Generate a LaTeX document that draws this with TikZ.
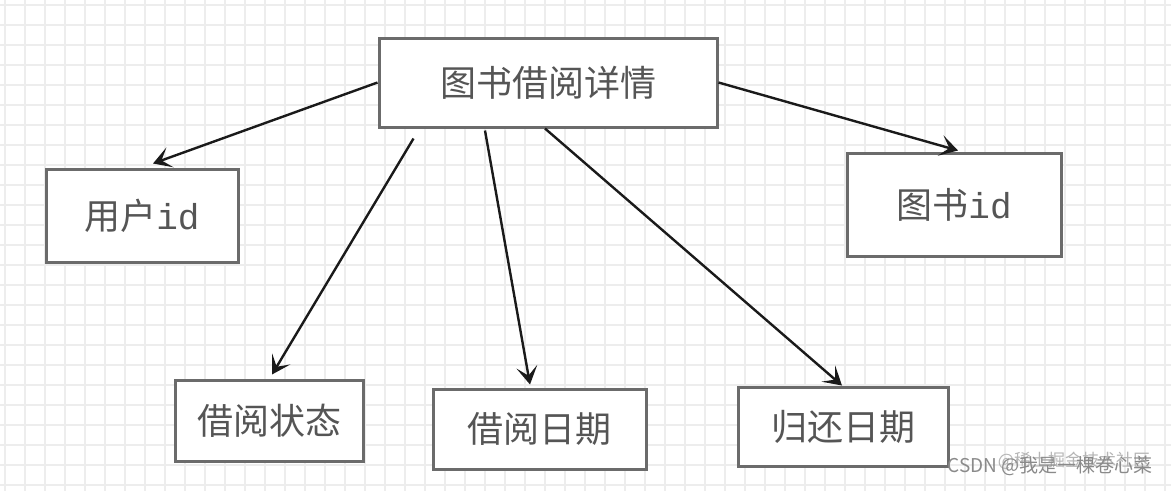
\documentclass[tikz,border=0pt]{standalone}
\usepackage{xcolor}
\usepackage{fontspec}
\setmainfont{Noto Sans CJK SC}
\setmonofont{Liberation Mono}
\usepackage{tikz}
\usetikzlibrary{calc}
\usetikzlibrary{arrows.meta}
\usetikzlibrary{shapes}
\usetikzlibrary{positioning}

\definecolor{gridgray}{HTML}{EDEDED}
\definecolor{boxgray}{HTML}{6B6B6B}
\definecolor{textgray}{HTML}{555555}
\definecolor{arrowblack}{HTML}{1A1A1A}
\definecolor{markgray}{HTML}{8A8A8A}
\definecolor{marklight}{HTML}{B5B5B5}

\begin{document}
\begin{tikzpicture}[x=1pt, y=-1pt,
  entity/.style={rectangle, draw=boxgray, line width=3pt, fill=white, text=textgray, inner sep=0pt, font=\fontsize{36}{42}\selectfont},
  link/.style={-{Stealth[length=18pt, width=21pt, inset=9pt]}, line width=2.4pt, draw=arrowblack}]
\useasboundingbox (0,0) rectangle (1171,491);
\fill [white] (0,0) rectangle (1171,491);
% grid
\foreach \x in {5,25,...,1165} \draw [gridgray, line width=1.6pt] (\x,0) -- (\x,491);
\foreach \y in {5,25,...,485} \draw [gridgray, line width=1.6pt] (0,\y) -- (1171,\y);

\node [entity, minimum width=338pt, minimum height=89pt] (D) at (548, 82.5) {图书借阅详情};
\node [entity, minimum width=192pt, minimum height=93pt] (U) at (142, 215.5) {用户\texttt{id}};
\node [entity, minimum width=214pt, minimum height=103pt] (T) at (954, 204.5) {图书\texttt{id}};
\node [entity, minimum width=188pt, minimum height=81pt] (S) at (269, 420.5) {借阅状态};
\node [entity, minimum width=213pt, minimum height=80pt] (J) at (539.5, 429) {借阅日期};
\node [entity, minimum width=210pt, minimum height=79pt] (R) at (843, 426.5) {归还日期};

\draw [link] (D.west) to ([xshift=11pt, yshift=4pt]U.north);
\draw [link] (D.east) to ([xshift=4pt, yshift=1pt]T.north);
\draw [link] ([xshift=36pt, yshift=-10pt]D.south west) to ([xshift=3pt, yshift=4pt]S.north);
\draw [link] ([xshift=-63pt, yshift=-2pt]D.south) to ([xshift=-9.5pt, yshift=3pt]J.north);
\draw [link] ([xshift=-3pt]D.south) to ([xshift=-1pt]R.north);

% watermarks
\node [text=marklight, font=\fontsize{17}{20}\selectfont, inner sep=0pt] (W2) at (1074, 461) {@稀土掘金技术社区};
\node [text=markgray, font=\fontsize{19}{22}\selectfont, inner sep=0pt] (W1) at (1050, 466) {CSDN @我是一棵卷心菜};
\end{tikzpicture}
\end{document}
